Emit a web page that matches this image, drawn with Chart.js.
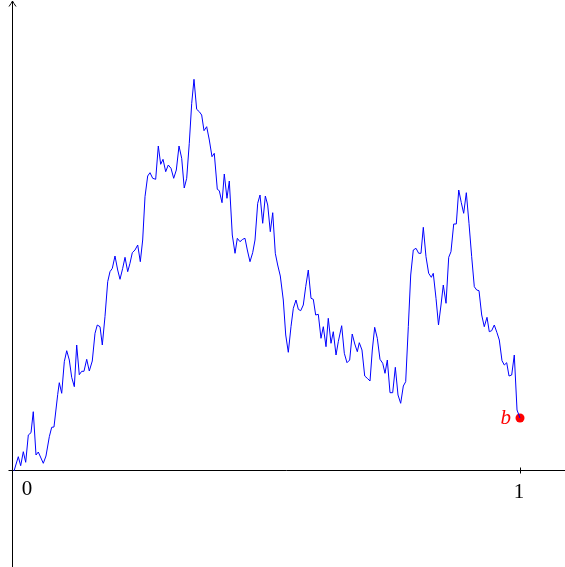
<!DOCTYPE html>
<html>
<head>
<meta charset="utf-8">
<script src="https://cdn.jsdelivr.net/npm/chart.js@4"></script>
<style>
  html, body { margin: 0; padding: 0; background: #fff; }
  #wrap { width: 565px; height: 567px; }
</style>
</head>
<body>
<div id="wrap"><canvas id="c" width="565" height="567"></canvas></div>
<script>
// Sample path of the process on [0, 1]
const times = [
  0, 0.0085, 0.0132, 0.0184, 0.0231, 0.0283, 0.0336, 0.0381, 0.0435, 0.048,
  0.0579, 0.0632, 0.0698, 0.0745, 0.079, 0.0864, 0.0895, 0.0943, 0.0994, 0.1042,
  0.1093, 0.114, 0.1192, 0.1239, 0.129, 0.1338, 0.1383, 0.1437, 0.1488, 0.1547,
  0.1601, 0.1646, 0.17, 0.1745, 0.1798, 0.1852, 0.1897, 0.1943, 0.1996, 0.2049,
  0.2095, 0.2148, 0.2194, 0.2247, 0.2292, 0.2338, 0.2391, 0.2445, 0.2496, 0.2543,
  0.2589, 0.2642, 0.2688, 0.2741, 0.28, 0.2852, 0.2899, 0.2945, 0.2998, 0.3049,
  0.3103, 0.3156, 0.3208, 0.3261, 0.3314, 0.3364, 0.3413, 0.3464, 0.3512, 0.3557,
  0.361, 0.3662, 0.3709, 0.3755, 0.3808, 0.386, 0.3913, 0.3958, 0.4018, 0.4057,
  0.4111, 0.4156, 0.4209, 0.4255, 0.4314, 0.4368, 0.4413, 0.4466, 0.452, 0.4565,
  0.4611, 0.4664, 0.4717, 0.4763, 0.4816, 0.4862, 0.4915, 0.4967, 0.5014, 0.5065,
  0.5113, 0.5164, 0.5211, 0.5263, 0.5322, 0.537, 0.5421, 0.5474, 0.552, 0.5573,
  0.5619, 0.5666, 0.5717, 0.5765, 0.5816, 0.587, 0.5915, 0.5962, 0.6014, 0.6067,
  0.6113, 0.6166, 0.6211, 0.6265, 0.631, 0.6364, 0.6409, 0.6476, 0.6528, 0.6581,
  0.6634, 0.6684, 0.6735, 0.6785, 0.6824, 0.6877, 0.6931, 0.6982, 0.7036, 0.7081,
  0.7128, 0.718, 0.7233, 0.7287, 0.7332, 0.7378, 0.7431, 0.7484, 0.7536, 0.7589,
  0.7642, 0.7694, 0.7741, 0.7793, 0.784, 0.7891, 0.7945, 0.7998, 0.8043, 0.8089,
  0.8142, 0.8195, 0.8247, 0.8286, 0.834, 0.8389, 0.8439, 0.8484, 0.8538, 0.8591,
  0.8636, 0.869, 0.8741, 0.8789, 0.884, 0.8887, 0.8939, 0.8992, 0.9045, 0.9097,
  0.9144, 0.919, 0.9243, 0.9294, 0.9348, 0.9393, 0.944, 0.9492, 0.9545, 0.9591,
  0.9644, 0.969, 0.9737, 0.9783, 0.9836, 0.9887, 0.9941, 1
];
const values = [
  0, 0.143, 0.053, 0.193, 0.087, 0.36, 0.383, 0.593, 0.16, 0.19,
  0.077, 0.15, 0.343, 0.437, 0.44, 0.767, 0.883, 0.777, 1.093, 1.203,
  1.11, 0.937, 0.843, 1.26, 0.963, 0.997, 0.997, 1.117, 1.0, 1.1,
  1.377, 1.46, 1.443, 1.26, 1.543, 1.893, 1.993, 2.027, 2.15, 2.01,
  1.917, 2.027, 2.137, 1.993, 2.077, 2.183, 2.21, 2.26, 2.093, 2.31,
  2.743, 2.95, 2.983, 2.927, 2.917, 3.25, 3.067, 3.117, 2.993, 3.06,
  3.027, 2.927, 3.01, 3.25, 3.127, 2.83, 2.927, 3.277, 3.677, 3.917,
  3.617, 3.593, 3.56, 3.403, 3.443, 3.31, 3.143, 3.177, 2.817, 2.803,
  2.683, 2.97, 2.727, 2.9, 2.36, 2.177, 2.327, 2.293, 2.317, 2.327,
  2.21, 2.093, 2.183, 2.31, 2.677, 2.76, 2.477, 2.75, 2.66, 2.393,
  2.583, 2.177, 2.06, 1.95, 1.71, 1.36, 1.187, 1.443, 1.627, 1.71,
  1.617, 1.603, 1.66, 1.843, 2.01, 1.727, 1.717, 1.56, 1.567, 1.327,
  1.443, 1.243, 1.527, 1.277, 1.393, 1.16, 1.293, 1.453, 1.177, 1.083,
  1.11, 1.37, 1.27, 1.193, 1.283, 1.21, 0.95, 0.927, 0.9, 1.21,
  1.437, 1.327, 1.117, 1.077, 0.977, 1.11, 0.783, 0.783, 1.037, 0.76,
  0.677, 0.85, 0.893, 1.443, 1.96, 2.21, 2.227, 2.177, 2.177, 2.437,
  2.143, 1.977, 1.937, 1.977, 1.727, 1.46, 1.66, 1.86, 1.677, 2.137,
  2.193, 2.47, 2.47, 2.81, 2.683, 2.577, 2.783, 2.477, 2.143, 1.843,
  1.81, 1.803, 1.56, 1.443, 1.537, 1.393, 1.403, 1.46, 1.383, 1.31,
  1.103, 1.06, 1.083, 0.95, 0.96, 1.16, 0.61, 0.53
];
const xTickValues = [0, 1];
const xTickLabels = ['0', '1'];
const endLabel = 'b';

const pathPoints = times.map((t, i) => ({ x: t, y: values[i] }));
const endPoint = [{ x: times[times.length - 1], y: values[values.length - 1] }];

const SERIF = '"Liberation Serif", "DejaVu Serif", serif';

// Axes with arrow heads, tick marks and labels
const axesPlugin = {
  id: 'axes',
  beforeDatasetsDraw(chart) {
    const { ctx } = chart;
    const xs = chart.scales.x, ys = chart.scales.y;
    const y0 = Math.round(ys.getPixelForValue(0)) - 0.5;
    const x0 = Math.round(xs.getPixelForValue(0)) - 0.5;
    ctx.save();
    ctx.strokeStyle = '#000';
    ctx.lineWidth = 1;
    // horizontal axis
    ctx.beginPath();
    ctx.moveTo(x0 - 5, y0);
    ctx.lineTo(565, y0);
    ctx.stroke();
    // vertical axis
    ctx.beginPath();
    ctx.moveTo(x0 - 1, 567);
    ctx.lineTo(x0 - 1, 1);
    ctx.stroke();
    // arrow head on vertical axis
    ctx.beginPath();
    ctx.moveTo(x0 - 4.5, 6.5);
    ctx.quadraticCurveTo(x0 - 2, 3, x0 - 1, 1);
    ctx.quadraticCurveTo(x0, 3, x0 + 2.5, 6.5);
    ctx.stroke();
    // tick mark at 1
    const x1 = Math.round(xs.getPixelForValue(1)) + 0.5;
    ctx.beginPath();
    ctx.moveTo(x1, y0 - 3);
    ctx.lineTo(x1, y0 + 3);
    ctx.stroke();
    // tick labels
    ctx.fillStyle = '#000';
    ctx.font = '21px ' + SERIF;
    ctx.textAlign = 'center';
    ctx.textBaseline = 'alphabetic';
    xTickValues.forEach((v, i) => {
      const px = xs.getPixelForValue(v);
      const dx = v === 0 ? 14 : 0;
      const by = v === 0 ? 495 : 498;
      ctx.fillText(xTickLabels[i], px + dx - 1, by);
    });
    ctx.restore();
  },
  afterDatasetsDraw(chart) {
    const { ctx } = chart;
    const xs = chart.scales.x, ys = chart.scales.y;
    const p = endPoint[0];
    const px = xs.getPixelForValue(p.x), py = ys.getPixelForValue(p.y);
    ctx.save();
    ctx.fillStyle = '#ff0000';
    ctx.font = 'italic 21px ' + SERIF;
    ctx.textAlign = 'right';
    ctx.textBaseline = 'alphabetic';
    ctx.fillText(endLabel, px - 9, py + 6);
    ctx.restore();
  }
};

new Chart(document.getElementById('c'), {
  type: 'line',
  data: {
    datasets: [
      {
        data: pathPoints,
        borderColor: '#0000ff',
        borderWidth: 1,
        pointRadius: 0,
        tension: 0,
        fill: false
      },
      {
        data: endPoint,
        showLine: false,
        pointRadius: 4.5,
        pointBackgroundColor: '#ff0000',
        pointBorderColor: '#ff0000',
        pointBorderWidth: 0
      }
    ]
  },
  options: {
    responsive: false,
    animation: false,
    devicePixelRatio: 1,
    layout: { padding: 0, autoPadding: false },
    plugins: { legend: { display: false }, tooltip: { enabled: false } },
    scales: {
      x: { type: 'linear', display: false, min: -0.02767, max: 1.08893 },
      y: { type: 'linear', display: false, min: -0.96, max: 4.71 }
    }
  },
  plugins: [axesPlugin]
});
</script>
</body>
</html>
